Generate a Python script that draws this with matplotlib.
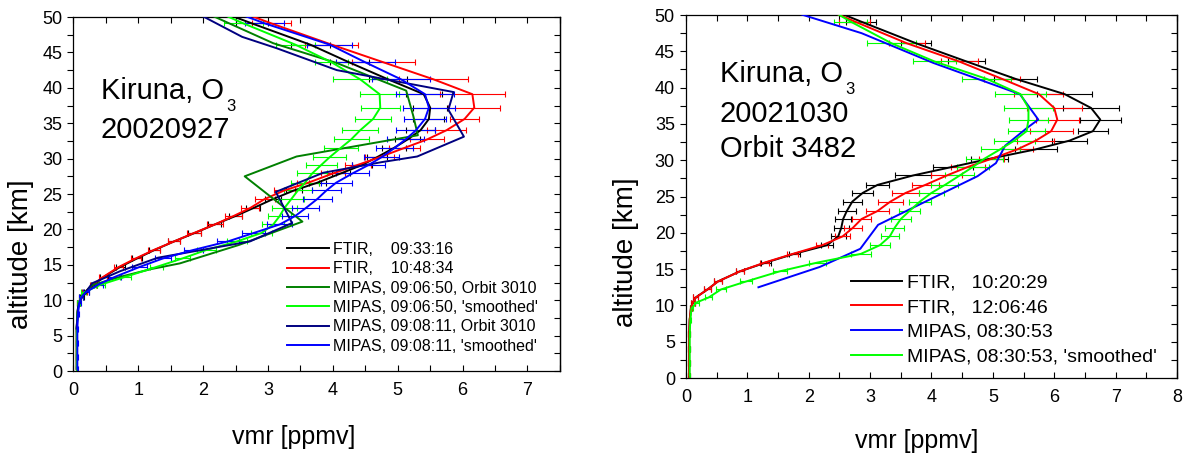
import matplotlib
matplotlib.use("Agg")
import matplotlib.pyplot as plt
from matplotlib.ticker import MultipleLocator

plt.rcParams['font.family'] = ['Liberation Sans', 'DejaVu Sans']

# FTIR retrieval grid (km), shared by the FTIR and the smoothed MIPAS profiles
ALT_FTIR = [0.3, 2.0, 4.0, 6.0, 8.0, 9.6, 10.4, 11.1, 12.2, 13.3, 14.7, 15.9,
            17.1, 18.3, 19.5, 20.7, 21.9, 23.0, 24.3, 25.5, 26.6, 27.9, 29.1,
            30.2, 31.5, 32.7, 34.0, 35.6, 37.2, 39.1, 41.2, 43.6, 46.1, 49.1, 52.0]

# --- 2002-09-27 -----------------------------------------------------------
FTIR_0933 = [0.05, 0.05, 0.05, 0.05, 0.06, 0.08, 0.13, 0.20, 0.32, 0.47, 0.72, 0.98,
             1.25, 1.55, 1.87, 2.18, 2.50, 2.77, 3.08, 3.40, 3.76, 4.12, 4.45,
             4.68, 4.94, 5.15, 5.35, 5.48, 5.50, 5.40, 4.85, 4.25, 3.65, 2.75, 1.90]
ERR_0933 = [0.01, 0.01, 0.01, 0.01, 0.01, 0.02, 0.03, 0.04, 0.05, 0.06, 0.07, 0.08,
            0.09, 0.10, 0.10, 0.10, 0.10, 0.11, 0.12, 0.12, 0.13, 0.14, 0.15,
            0.16, 0.18, 0.20, 0.22, 0.24, 0.26, 0.28, 0.30, 0.30, 0.30, 0.25, 0.20]
FTIR_1048 = [0.05, 0.05, 0.05, 0.05, 0.06, 0.08, 0.12, 0.17, 0.30, 0.46, 0.70, 0.96,
             1.24, 1.55, 1.86, 2.18, 2.47, 2.72, 2.95, 3.25, 3.62, 4.00, 4.38,
             4.72, 5.10, 5.45, 5.75, 6.03, 6.18, 6.15, 5.55, 4.78, 3.98, 3.05, 2.20]
ERR_1048 = [0.01, 0.01, 0.01, 0.01, 0.01, 0.02, 0.03, 0.04, 0.05, 0.06, 0.07, 0.08,
            0.09, 0.10, 0.11, 0.12, 0.13, 0.14, 0.15, 0.16, 0.17, 0.18, 0.20,
            0.22, 0.24, 0.26, 0.30, 0.23, 0.40, 0.50, 0.53, 0.48, 0.41, 0.30, 0.25]

ALT_0906 = [6.0, 9.0, 10.5, 12.1, 13.3, 14.4, 15.2, 17.8, 21.1, 27.5, 30.3, 33.3,
            36.0, 39.6, 43.5, 46.3, 52.0]
MIPAS_0906 = [0.05, 0.07, 0.12, 0.28, 0.72, 1.20, 1.64, 2.55, 3.53, 2.64, 3.44, 5.31,
              5.24, 5.13, 4.06, 3.08, 1.70]
SMOOTH_0906 = [0.05, 0.05, 0.05, 0.05, 0.06, 0.08, 0.12, 0.16, 0.42, 0.80, 1.28, 1.68,
               2.05, 2.52, 2.90, 3.08, 3.18, 3.25, 3.36, 3.46, 3.57, 3.68, 3.82,
               3.95, 4.12, 4.28, 4.42, 4.62, 4.73, 4.72, 4.42, 3.98, 3.42, 2.62, 1.90]
ERR_S0906 = [0.01, 0.01, 0.01, 0.01, 0.01, 0.02, 0.03, 0.04, 0.06, 0.08, 0.10, 0.12,
             0.14, 0.15, 0.16, 0.17, 0.18, 0.19, 0.20, 0.21, 0.22, 0.23, 0.24,
             0.25, 0.26, 0.27, 0.28, 0.28, 0.30, 0.30, 0.42, 0.25, 0.30, 0.30, 0.30]

ALT_0908 = [6.0, 9.0, 10.3, 12.4, 14.1, 16.0, 18.3, 20.9, 25.3, 28.0, 29.5, 30.3,
            33.1, 36.9, 39.4, 42.5, 45.6, 47.2, 52.0]
MIPAS_0908 = [0.05, 0.07, 0.12, 0.29, 0.72, 1.30, 2.72, 3.37, 3.12, 3.85, 4.75, 5.30,
              6.02, 5.78, 5.86, 4.06, 3.13, 2.60, 1.60]
SMOOTH_0908 = [0.06, 0.06, 0.06, 0.06, 0.07, 0.09, 0.12, 0.19, 0.38, 0.64, 1.02, 1.38,
               1.85, 2.38, 2.78, 3.18, 3.42, 3.58, 3.76, 3.90, 4.05, 4.30, 4.55,
               4.75, 4.95, 5.12, 5.28, 5.42, 5.48, 5.42, 5.05, 4.50, 3.95, 2.95, 2.10]
ERR_S0908 = [0.01, 0.01, 0.01, 0.01, 0.01, 0.02, 0.03, 0.05, 0.07, 0.09, 0.11, 0.13,
             0.15, 0.17, 0.18, 0.19, 0.20, 0.21, 0.22, 0.23, 0.24, 0.25, 0.26,
             0.27, 0.28, 0.28, 0.30, 0.32, 0.40, 0.45, 0.45, 0.45, 0.35, 0.30, 0.30]

# --- 2002-10-30 -----------------------------------------------------------
FTIR_1020 = [0.05, 0.05, 0.05, 0.05, 0.06, 0.08, 0.11, 0.16, 0.35, 0.52, 0.88, 1.30,
             1.76, 2.30, 2.48, 2.53, 2.56, 2.62, 2.71, 2.88, 3.12, 3.70, 4.35,
             4.95, 5.70, 6.25, 6.63, 6.75, 6.60, 6.17, 5.37, 4.57, 3.75, 2.85, 2.00]
ERR_1020 = [0.01, 0.01, 0.01, 0.01, 0.01, 0.02, 0.03, 0.04, 0.05, 0.06, 0.07, 0.08,
            0.09, 0.10, 0.12, 0.12, 0.13, 0.15, 0.16, 0.17, 0.18, 0.30, 0.32,
            0.30, 0.34, 0.28, 0.25, 0.33, 0.45, 0.45, 0.35, 0.30, 0.25, 0.25, 0.20]
FTIR_1206 = [0.05, 0.05, 0.05, 0.05, 0.06, 0.08, 0.11, 0.16, 0.35, 0.52, 0.88, 1.28,
             1.74, 2.22, 2.55, 2.72, 2.86, 3.12, 3.33, 3.58, 3.90, 4.25, 4.60,
             4.98, 5.40, 5.70, 5.95, 6.05, 6.00, 5.75, 5.15, 4.45, 3.60, 2.75, 1.95]
ERR_1206 = [0.01, 0.01, 0.01, 0.01, 0.01, 0.02, 0.03, 0.04, 0.05, 0.06, 0.07, 0.08,
            0.09, 0.10, 0.12, 0.14, 0.16, 0.18, 0.20, 0.22, 0.22, 0.25, 0.28,
            0.20, 0.25, 0.30, 0.35, 0.35, 0.45, 0.40, 0.30, 0.30, 0.30, 0.25, 0.20]

ALT_0830 = [12.5, 15.3, 17.8, 21.1, 24.5, 27.8, 29.6, 32.0, 34.4, 35.6, 39.1, 43.4,
            47.5, 52.0]
MIPAS_0830 = [1.18, 2.18, 2.84, 3.13, 3.95, 4.75, 5.05, 5.20, 5.55, 5.74, 5.44, 4.03,
              2.86, 1.15]
SMOOTH_0830 = [0.06, 0.06, 0.06, 0.06, 0.07, 0.09, 0.17, 0.37, 0.57, 0.98, 1.53, 2.14,
               2.85, 3.16, 3.32, 3.40, 3.50, 3.64, 3.81, 4.00, 4.22, 4.46, 4.68,
               4.86, 5.12, 5.35, 5.55, 5.58, 5.58, 5.45, 4.90, 4.05, 3.35, 2.68, 2.10]
ERR_S0830 = [0.01, 0.01, 0.01, 0.01, 0.01, 0.02, 0.04, 0.06, 0.08, 0.10, 0.12, 0.14,
             0.16, 0.16, 0.15, 0.15, 0.16, 0.17, 0.18, 0.20, 0.22, 0.24, 0.26,
             0.30, 0.32, 0.33, 0.30, 0.32, 0.40, 0.42, 0.40, 0.35, 0.40, 0.27, 0.25]

BLACK = "#000000"; RED = "#ff0000"; DKGREEN = "#008000"; GREEN = "#00ff00"
NAVY = "#000080"; BLUE = "#0000ff"
LW = 1.4


def profile(ax, vals, alt, col, label, err=None):
    if err is not None:
        ax.errorbar(vals, alt, xerr=err, fmt="none", ecolor=col, elinewidth=0.8,
                    capsize=2.5, capthick=0.8, zorder=2)
    ax.plot(vals, alt, color=col, lw=LW, label=label, zorder=3)


def frame(ax, xmax):
    ax.set_xlim(0, xmax)
    ax.set_ylim(0, 50)
    ax.xaxis.set_major_locator(MultipleLocator(1))
    ax.xaxis.set_minor_locator(MultipleLocator(0.5))
    ax.yaxis.set_major_locator(MultipleLocator(5))
    ax.yaxis.set_minor_locator(MultipleLocator(2.5))
    ax.tick_params(axis="x", which="both", direction="in", top=True,
                   length=4, width=0.8, labelsize=13, pad=8)
    ax.tick_params(axis="y", which="both", direction="out", right=False,
                   length=4, width=0.8, labelsize=13, pad=4)
    sec = ax.secondary_yaxis("right")
    sec.yaxis.set_major_locator(MultipleLocator(5))
    sec.yaxis.set_minor_locator(MultipleLocator(2.5))
    sec.tick_params(axis="y", which="both", direction="in", length=4,
                    width=0.8, labelright=False)
    for s in ax.spines.values():
        s.set_linewidth(0.9)
    sec.spines["right"].set_linewidth(0.9)
    ax.set_xlabel("vmr [ppmv]", fontsize=18, va="center")
    ax.set_ylabel("altitude [km]", fontsize=20, va="center", ha="center")


def species(ax, x, y, name, sub):
    # station/species label with a deep, small subscript as in the original plots
    t = ax.text(x, y, name, fontsize=21, va="baseline")
    ax.annotate(sub, xy=(1, 0), xycoords=t, xytext=(1.5, -4.5),
                textcoords="offset points", fontsize=12, va="baseline")


fig = plt.figure(figsize=(11.83, 4.55), dpi=100)
axL = fig.add_axes([0.0621, 0.1846, 0.4112, 0.7780])
axR = fig.add_axes([0.5799, 0.1692, 0.4150, 0.7978])

# left: 27 Sep 2002
profile(axL, FTIR_0933, ALT_FTIR, BLACK, "FTIR,    09:33:16", ERR_0933)
profile(axL, FTIR_1048, ALT_FTIR, RED, "FTIR,    10:48:34", ERR_1048)
profile(axL, MIPAS_0906, ALT_0906, DKGREEN, "MIPAS, 09:06:50, Orbit 3010")
profile(axL, SMOOTH_0906, ALT_FTIR, GREEN, "MIPAS, 09:06:50, 'smoothed'", ERR_S0906)
profile(axL, MIPAS_0908, ALT_0908, NAVY, "MIPAS, 09:08:11, Orbit 3010")
profile(axL, SMOOTH_0908, ALT_FTIR, BLUE, "MIPAS, 09:08:11, 'smoothed'", ERR_S0908)
frame(axL, 7.5)
axL.xaxis.set_label_coords(0.452, -0.186)
axL.yaxis.set_label_coords(-0.108, 0.33)
species(axL, 0.43, 38.4, "Kiruna, O", "3")
axL.text(0.42, 32.9, "20020927", fontsize=21, va="baseline")
axL.legend(loc="upper left", bbox_to_anchor=(287 / 1183, 1 - 242 / 455),
           bbox_transform=fig.transFigure, frameon=False, fontsize=11.5,
           handlelength=2.6, handletextpad=0.3, labelspacing=0.27,
           borderpad=0, borderaxespad=0)

# right: 30 Oct 2002
profile(axR, FTIR_1020, ALT_FTIR, BLACK, "FTIR,   10:20:29", ERR_1020)
profile(axR, FTIR_1206, ALT_FTIR, RED, "FTIR,   12:06:46", ERR_1206)
profile(axR, MIPAS_0830, ALT_0830, BLUE, "MIPAS, 08:30:53")
profile(axR, SMOOTH_0830, ALT_FTIR, GREEN, "MIPAS, 08:30:53, 'smoothed'", ERR_S0830)
frame(axR, 8)
axR.xaxis.set_label_coords(0.47, -0.174)
axR.yaxis.set_label_coords(-0.122, 0.347)
species(axR, 0.55, 40.8, "Kiruna, O", "3")
axR.text(0.55, 35.3, "20021030", fontsize=21, va="baseline")
axR.text(0.55, 30.5, "Orbit 3482", fontsize=21, va="baseline")
axR.legend(loc="upper left", bbox_to_anchor=(851 / 1183, 1 - 274 / 455),
           bbox_transform=fig.transFigure, frameon=False, fontsize=14,
           handlelength=2.6, handletextpad=0.26, labelspacing=0.36,
           borderpad=0, borderaxespad=0)

fig.savefig("out.png", dpi=100, facecolor="white")
